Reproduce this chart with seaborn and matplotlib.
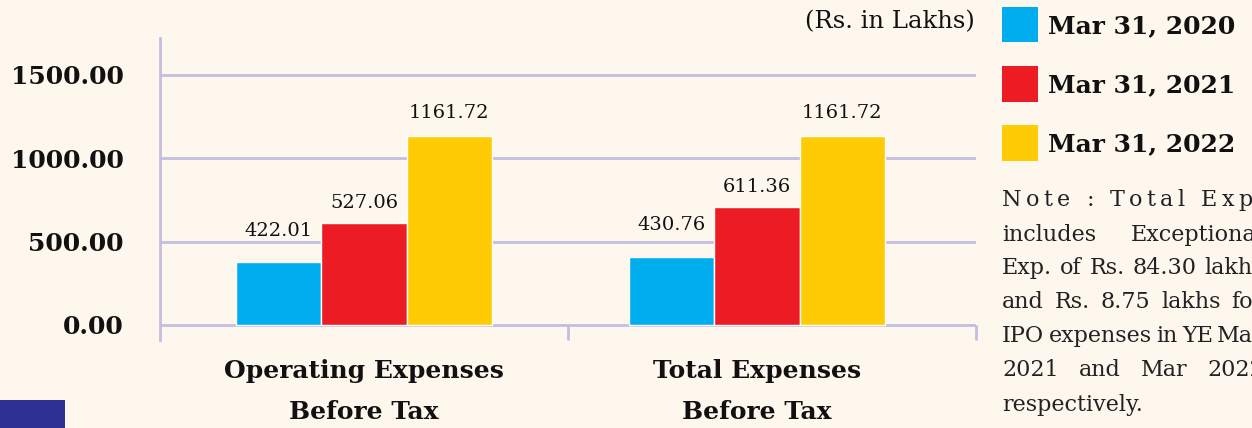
import matplotlib
matplotlib.use("Agg")
import matplotlib.pyplot as plt
from matplotlib.patches import Patch, Rectangle
import seaborn as sns
import pandas as pd

# bar heights as drawn, and the value labels printed above them
categories = ['Operating Expenses\nBefore Tax', 'Total Expenses\nBefore Tax']
years = ['Mar 31, 2020', 'Mar 31, 2021', 'Mar 31, 2022']
heights_2020 = [376, 410]
heights_2021 = [612, 708]
heights_2022 = [1134, 1134]
labels_2020 = ['422.01', '430.76']
labels_2021 = ['527.06', '611.36']
labels_2022 = ['1161.72', '1161.72']
yticks = [0, 500, 1000, 1500]

note_lines = [
    'Note : Total Exp.',
    'includes Exceptional',
    'Exp. of Rs. 84.30 lakhs',
    'and Rs. 8.75 lakhs for',
    'IPO expenses in YE Mar',
    '2021 and Mar 2022',
    'respectively.',
]

colors = ['#00AEEF', '#ED1C24', '#FFCB05']
bg = '#FEF7EE'
grid = '#C3BEE0'
ink = '#111111'

sns.set_style('white')
plt.rcParams['font.family'] = ['DejaVu Serif']
plt.rcParams['text.color'] = ink
plt.rcParams['xtick.labelcolor'] = ink
plt.rcParams['ytick.labelcolor'] = ink

rows = []
for yr, hs in zip(years, [heights_2020, heights_2021, heights_2022]):
    for cat, h in zip(categories, hs):
        rows.append({'category': cat, 'year': yr, 'value': h})
df = pd.DataFrame(rows)

W, H = 1252, 428
fig = plt.figure(figsize=(W / 100, H / 100), dpi=100, facecolor=bg)
ax = fig.add_axes([160 / W, (H - 340) / H, (976 - 160) / W, (340 - 38) / H])
ax.set_facecolor(bg)

sns.barplot(data=df, x='category', y='value', hue='year', palette=colors,
            saturation=1, width=0.65, edgecolor='white', linewidth=1,
            legend=False, ax=ax, zorder=3)

ax.set_xlim(-0.519, 1.557)
ax.set_ylim(-90, 1722)
ax.set_xlabel('')
ax.set_ylabel('')

ax.set_yticks(yticks)
ax.set_yticklabels([f'{v:.2f}' for v in yticks], fontsize=18, fontweight='bold')
ax.tick_params(axis='y', length=13, width=2, color=grid, pad=13)
ax.tick_params(axis='x', length=0, pad=14)
for t in ax.get_xticklabels():
    t.set_fontsize(18)
    t.set_fontweight('bold')
    t.set_linespacing(1.85)

ax.yaxis.grid(True, color=grid, lw=2, zorder=0)
ax.set_axisbelow(True)
for s in ['top', 'right', 'bottom']:
    ax.spines[s].set_visible(False)
ax.spines['left'].set_color(grid)
ax.spines['left'].set_linewidth(2)

x0, x1 = ax.get_xlim()
ax.vlines([(x0 + x1) / 2, x1], -90, 0, color=grid, lw=2, clip_on=False)

# value labels
all_labels = [labels_2020, labels_2021, labels_2022]
offsets = [16, 8, 10]
for i, cont in enumerate(ax.containers):
    for bar, lab in zip(cont, all_labels[i]):
        ax.annotate(lab, (bar.get_x() + bar.get_width() / 2, bar.get_height()),
                    xytext=(0, offsets[i]), textcoords='offset points',
                    ha='center', va='bottom', fontsize=14)

fig.text(975 / W, 1 - 22 / H, '(Rs. in Lakhs)', ha='right', va='center',
         fontsize=17.5)

# legend
handles = [Patch(facecolor=c, edgecolor='none') for c in colors]
fig.legend(handles, years, loc='upper left', bbox_to_anchor=(1002 / W, 1 - 7 / H),
           frameon=False, prop={'size': 18, 'weight': 'bold'},
           handlelength=1.44, handleheight=1.8, labelspacing=0.95,
           handletextpad=0.4, borderpad=0, borderaxespad=0)

# justified note text, clipped by the figure edge as in the source
renderer = fig.canvas.get_renderer()
nx0, nx1 = 1002, 1264
note_y = [200, 235, 268, 302, 336, 370, 405]
nkw = dict(fontsize=16, color='#222222', va='center', ha='left')


def width_of(s):
    t = fig.text(0, 0, s, **nkw)
    w = t.get_window_extent(renderer).width
    t.remove()
    return w


for k, (line, yy) in enumerate(zip(note_lines, note_y)):
    yf = 1 - yy / H
    if k == len(note_lines) - 1:
        fig.text(nx0 / W, yf, line, **nkw)
        continue
    if k == 0:
        # letter spaced line
        chars = list(line)
        space_w = width_of('N N') - width_of('NN')
        ws = [space_w if c == ' ' else width_of(c) for c in chars]
        track = (nx1 - nx0 - sum(ws)) / (len(chars) - 1)
        x = nx0
        for c, w in zip(chars, ws):
            if c != ' ':
                fig.text(x / W, yf, c, **nkw)
            x += w + track
        continue
    words = line.split()
    ws = [width_of(w) for w in words]
    gap = (nx1 - nx0 - sum(ws)) / (len(words) - 1)
    x = nx0
    for w, wd in zip(words, ws):
        fig.text(x / W, yf, w, **nkw)
        x += wd + gap

fig.patches.append(Rectangle((0, 0), 65 / W, 28 / H, transform=fig.transFigure,
                             facecolor='#2E3192', edgecolor='none'))

fig.savefig('out.png', dpi=100, facecolor=bg)
